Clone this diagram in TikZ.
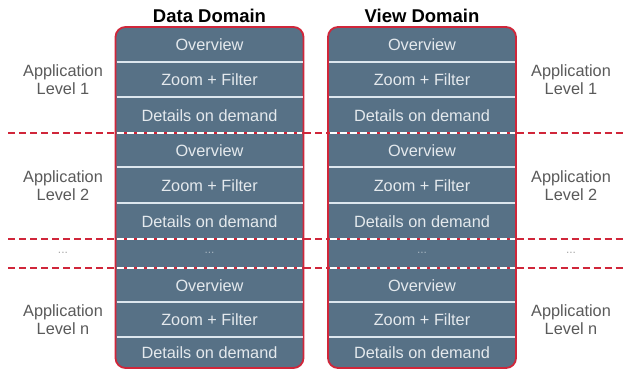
\documentclass[tikz,border=0pt]{standalone}
\usepackage{fontspec}
\setmainfont{Liberation Sans}
\definecolor{boxfill}{HTML}{577186}
\definecolor{boxred}{HTML}{D0263A}
\definecolor{celltext}{HTML}{E4E9ED}
\definecolor{sidetext}{HTML}{5A5A5A}
\definecolor{dotstext}{HTML}{A8A8A8}
\definecolor{sepline}{HTML}{DCE6EE}
\begin{document}
\begin{tikzpicture}[x=1pt,y=-1pt,
  domainbox/.style={draw=boxred,fill=boxfill,line width=1.8pt,rounded corners=10pt},
  sepstyle/.style={draw=sepline,line width=1.7pt},
  reddash/.style={draw=boxred,line width=1.4pt,dash pattern=on 7pt off 4pt},
  redsolid/.style={draw=boxred,line width=1.4pt},
  whitedash/.style={draw=white,line width=1.5pt,dash pattern=on 7pt off 3pt},
  cell/.style={text=celltext,font=\fontsize{16.3}{19}\selectfont,inner sep=0pt},
  celldots/.style={text=celltext!55!boxfill,font=\fontsize{12}{14}\selectfont,inner sep=0pt},
  side/.style={text=sidetext,align=center,font=\fontsize{16.3}{18}\selectfont,inner sep=0pt},
  sidedots/.style={text=dotstext,font=\fontsize{12}{14}\selectfont,inner sep=0pt},
  title/.style={text=black,font=\bfseries\fontsize{18.5}{20}\selectfont,inner sep=0pt}]
\useasboundingbox (0,0) rectangle (623,371);
\fill[white] (0,0) rectangle (623,371);
% domain boxes
\draw[domainbox] (115.5,27) rectangle (303.5,368);
\draw[domainbox] (328,27) rectangle (516,368);
% separators
\foreach \yy in {62,97,167,203,302,337}{
  \draw[sepstyle] (116.5,\yy) -- (302.5,\yy);
  \draw[sepstyle] (329,\yy) -- (515,\yy);
}
% level boundaries
\foreach \yy in {133,239,268}{
  \draw[reddash] (8,\yy) -- (115,\yy);
  \draw[reddash] (304,\yy) -- (328,\yy);
  \draw[reddash] (516.5,\yy) -- (623,\yy);
  \draw[redsolid] (116.5,\yy) -- (302.5,\yy);
  \draw[redsolid] (329,\yy) -- (515,\yy);
  \draw[whitedash] (117,\yy) -- (302,\yy);
  \draw[whitedash] (329.5,\yy) -- (514.5,\yy);
}
% titles
\node[title] (tdata) at (209.5,16) {Data Domain};
\node[title] (tview) at (422,16) {View Domain};
% cells
\foreach \dom/\xx in {d/209.5,v/422}{
  \node[cell] (\dom o1) at (\xx,45) {Overview};
  \node[cell] (\dom z1) at (\xx,80) {Zoom + Filter};
  \node[cell] (\dom d1) at (\xx,115.5) {Details on demand};
  \node[cell] (\dom o2) at (\xx,150.5) {Overview};
  \node[cell] (\dom z2) at (\xx,185.5) {Zoom + Filter};
  \node[cell] (\dom d2) at (\xx,221.5) {Details on demand};
  \node[celldots] (\dom dots) at (\xx,253) {...};
  \node[cell] (\dom o3) at (\xx,285.5) {Overview};
  \node[cell] (\dom z3) at (\xx,320) {Zoom + Filter};
  \node[cell] (\dom d3) at (\xx,353) {Details on demand};
}
% side labels
\foreach \sd/\xx in {l/63,r/571}{
  \node[side] (\sd lev1) at (\xx,80) {Application\\Level 1};
  \node[side] (\sd lev2) at (\xx,185.5) {Application\\Level 2};
  \node[sidedots] (\sd dots) at (\xx,253) {...};
  \node[side] (\sd lev3) at (\xx,320) {Application\\Level n};
}
\end{tikzpicture}
\end{document}
